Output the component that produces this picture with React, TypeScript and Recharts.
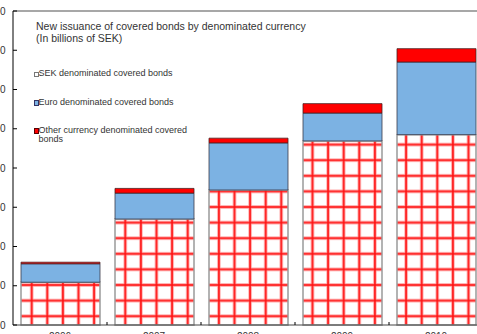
import { Bar, BarChart, Legend, ReferenceLine, XAxis, YAxis } from 'recharts'

const years = ['2006', '2007', '2008', '2009', '2010']
const sekBonds = [109, 270, 344, 469, 485]
const euroBonds = [47, 66, 120, 71, 185]
const otherBonds = [4, 12, 12, 24, 34]
const yTicks = [0, 100, 200, 300, 400, 500, 600, 700, 800]
const seriesNames = [
  'SEK denominated covered bonds',
  'Euro denominated covered bonds',
  'Other currency denominated covered bonds',
]
const titleLines = ['New issuance of covered bonds by denominated currency', '(In billions of SEK)']

const data = years.map((year, i) => ({
  year,
  sek: sekBonds[i],
  euro: euroBonds[i],
  other: otherBonds[i],
}))

const FONT = 'Arial, "Liberation Sans", sans-serif'
const TEXT = '#333'
const BLUE = '#7cb2e3'
const RED = '#ff0000'

function YTick({ x, y, payload }: any) {
  return (
    <g>
      <line x1={x} x2={x + 4} y1={y} y2={y} stroke="#000" strokeWidth={1} />
      <text x={x - 7.5} y={y} dy={3.5} textAnchor="end" fontSize={10} fill={TEXT} fontFamily={FONT}>
        {payload.value}
      </text>
    </g>
  )
}

function XTick({ x, y, payload, index }: any) {
  return (
    <g>
      {index > 0 && <line x1={x - 47} x2={x - 47} y1={y} y2={y - 3} stroke="#000" strokeWidth={1} />}
      <text x={x} y={y + 14.5} textAnchor="middle" fontSize={10} fill={TEXT} fontFamily={FONT}>
        {payload.value}
      </text>
    </g>
  )
}

const swatches = [
  { fill: '#fff', border: '#777' },
  { fill: BLUE, border: '#336' },
  { fill: RED, border: '#500' },
]
const itemTops = [69.2, 97.8, 125.8]

function ChartLegend() {
  return (
    <div style={{ position: 'relative', width: 300, height: 150, fontFamily: FONT, color: TEXT }}>
      <div style={{ position: 'absolute', left: 36, top: 19.6, fontSize: 10.5, lineHeight: '12.4px', whiteSpace: 'nowrap' }}>
        {titleLines.map((l) => (
          <div key={l}>{l}</div>
        ))}
      </div>
      {seriesNames.map((name, i) => (
        <div key={name}>
          <div
            style={{
              position: 'absolute',
              left: 33.5,
              top: itemTops[i] + 2.5,
              width: 3.5,
              height: 3.5,
              background: swatches[i].fill,
              border: `0.8px solid ${swatches[i].border}`,
            }}
          />
          <div
            style={{
              position: 'absolute',
              left: 38.5,
              top: itemTops[i],
              width: 150,
              fontSize: 9,
              lineHeight: '9px',
            }}
          >
            {name}
          </div>
        </div>
      ))}
    </div>
  )
}

export default function App() {
  return (
    <div
      style={{
        position: 'absolute',
        left: 0,
        top: 0,
        width: 477,
        height: 334,
        overflow: 'hidden',
        background: '#fff',
      }}
    >
      <BarChart
        width={483}
        height={334}
        data={data}
        margin={{ top: 11, right: 0, left: 0, bottom: 0 }}
      >
        <defs>
          <pattern id="sekGrid" patternUnits="userSpaceOnUse" width={15.6} height={15.6} x={8.3} y={-3.6}>
            <rect width={15.6} height={15.6} fill="#fff" />
            <path d="M0 7.8H15.6M7.8 0V15.6" stroke="#ff9a9a" strokeWidth={3.2} />
            <path d="M0 7.8H15.6M7.8 0V15.6" stroke="#ff1010" strokeWidth={1.6} />
          </pattern>
        </defs>
        <XAxis
          dataKey="year"
          height={9}
          tickSize={0}
          tickMargin={0}
          tickLine={false}
          interval={0}
          axisLine={{ stroke: '#444', strokeWidth: 1 }}
          tick={XTick}
        />
        <YAxis
          width={13}
          domain={[0, 800]}
          ticks={yTicks}
          interval={0}
          tickSize={0}
          tickMargin={0}
          tickLine={false}
          axisLine={{ stroke: '#000', strokeWidth: 1 }}
          tick={YTick}
        />
        <ReferenceLine y={800} stroke="#8a8a8a" strokeWidth={1.5} />
        <Legend
          layout="horizontal"
          verticalAlign="middle"
          align="center"
          wrapperStyle={{ left: 0, top: 0, width: 300, height: 150 }}
          content={() => <ChartLegend />}
        />
        <Bar
          dataKey="sek"
          name={seriesNames[0]}
          stackId="a"
          barSize={79}
          fill="url(#sekGrid)"
          stroke="#9a9a9a"
          strokeWidth={1.5}
          isAnimationActive={false}
        />
        <Bar
          dataKey="euro"
          name={seriesNames[1]}
          stackId="a"
          barSize={79}
          fill={BLUE}
          stroke="#3a3a4a"
          strokeWidth={0.8}
          isAnimationActive={false}
        />
        <Bar
          dataKey="other"
          name={seriesNames[2]}
          stackId="a"
          barSize={79}
          fill={RED}
          stroke="#4a2020"
          strokeWidth={0.8}
          isAnimationActive={false}
        />
      </BarChart>
    </div>
  )
}
